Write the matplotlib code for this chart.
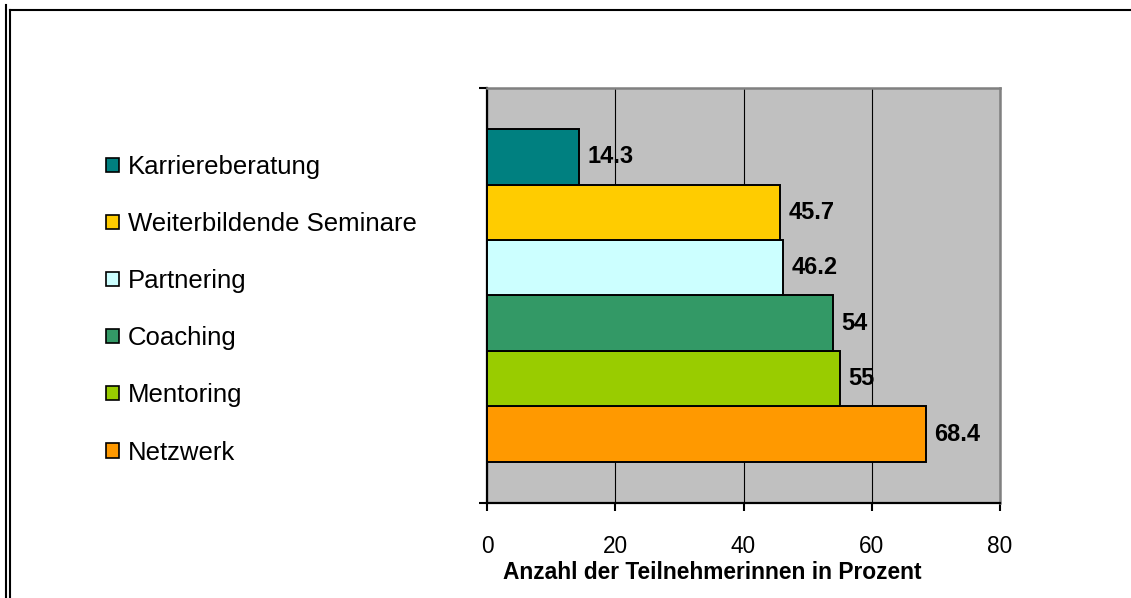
import matplotlib.pyplot as plt
from matplotlib.patches import Patch
from matplotlib.lines import Line2D
import numpy as np

plt.rcParams['font.family'] = ['Liberation Sans', 'DejaVu Sans']

# ========== Data ==========
categories = ['Netzwerk', 'Mentoring', 'Coaching', 'Partnering',
              'Weiterbildende Seminare', 'Karriereberatung']
values = [68.4, 55, 54, 46.2, 45.7, 14.3]
value_labels = ['68.4', '55', '54', '46.2', '45.7', '14.3']
colors = ['#FF9900', '#99CC00', '#339966', '#CCFFFF', '#FFCC00', '#008080']
x_ticks = [0, 20, 40, 60, 80]

# ========== Figure ==========
fig = plt.figure(figsize=(11.31, 5.98), dpi=100)
ax = fig.add_axes([0.4306, 0.1589, 0.4536, 0.6940])
ax.set_facecolor('#C0C0C0')

pos = np.arange(len(categories))
bars = ax.barh(pos, values, height=1.0, color=colors, edgecolor='black',
               linewidth=1.4, zorder=3)
ax.bar_label(bars, labels=value_labels, padding=6, fontsize=17,
             fontweight='bold', zorder=4)

ax.set_xlim(0, 80)
ax.set_ylim(-1.24, 6.24)
ax.set_xticks(x_ticks)
ax.set_xticklabels([str(t) for t in x_ticks], fontsize=16.3)
ax.set_yticks([-1.24, 6.24])
ax.set_yticklabels(['', ''])
ax.tick_params(axis='both', direction='out', length=6, width=1.5, color='black')
ax.tick_params(axis='x', pad=17)
ax.grid(axis='x', color='black', linewidth=0.8, zorder=1)
ax.set_axisbelow(True)

# the axis title sits a bit left of the plot centre in the original
ax.set_xlabel('Anzahl der Teilnehmerinnen in Prozent', fontsize=16.4,
              fontweight='bold', labelpad=2, x=0.4386)

for side in ['left', 'bottom']:
    ax.spines[side].set_color('black')
    ax.spines[side].set_linewidth(1.6)
for side in ['top', 'right']:
    ax.spines[side].set_color('#808080')
    ax.spines[side].set_linewidth(1.8)

# Legend (top to bottom: Karriereberatung ... Netzwerk)
handles = [Patch(facecolor=c, edgecolor='black', linewidth=1.2) for c in colors]
fig.legend(handles[::-1], categories[::-1], loc='center left',
           bbox_to_anchor=(0.0937, 0.482), frameon=False, fontsize=18.5,
           handlelength=0.5, handleheight=0.47, handletextpad=0.35,
           labelspacing=1.29, borderpad=0, borderaxespad=0)

# Outer frame: double line on the left, single line on top
fig.add_artist(Line2D([6 / 1131, 6 / 1131], [0, 1 - 5 / 598],
                      transform=fig.transFigure, color='black', linewidth=1.5))
fig.add_artist(Line2D([10 / 1131, 10 / 1131], [0, 1 - 10 / 598],
                      transform=fig.transFigure, color='black', linewidth=1.5))
fig.add_artist(Line2D([10 / 1131, 1], [1 - 10 / 598, 1 - 10 / 598],
                      transform=fig.transFigure, color='black', linewidth=1.5))

fig.savefig('out.png', dpi=100)
